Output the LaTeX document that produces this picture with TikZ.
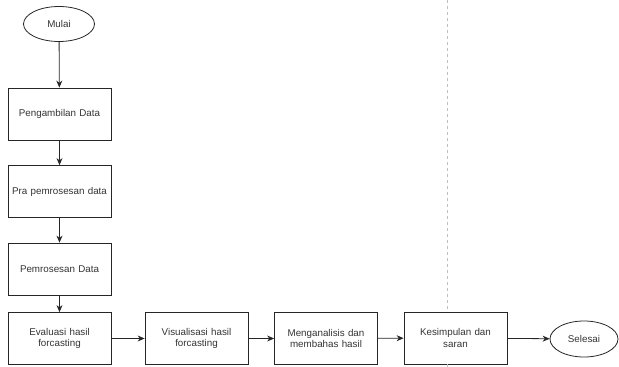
\documentclass[tikz,border=0pt]{standalone}
\usepackage{fontspec}
\setmainfont{Liberation Sans}
\usepackage{xcolor}
\usetikzlibrary{arrows.meta,shapes.geometric}
\hyphenpenalty=10000

\begin{document}
\begin{tikzpicture}[x=1pt,y=-1pt,
  font=\fontsize{9.8pt}{11.5pt}\selectfont,
  every node/.style={text=black!80},
  proc/.style={draw=black!85,line width=0.8pt,minimum width=103pt,minimum height=52pt,text width=101pt,align=center,inner sep=0pt},
  term/.style={draw=black!85,line width=0.8pt,ellipse,minimum width=71pt,minimum height=35pt,inner sep=0pt},
  flow/.style={draw=black!85,line width=0.8pt,-{Stealth[length=7pt,width=6pt]}}]
  \useasboundingbox (0,0) rectangle (619,367);

  \node[term] (start) at (59,24) {Mulai};
  \node[proc] (ambil) at (59.5,114) {Pengambilan Data};
  \node[proc] (pra) at (59.5,191.5) {Pra pemrosesan data};
  \node[proc] (proses) at (59.5,269) {Pemrosesan Data};
  \node[proc] (eval) at (59.5,338.5) {Evaluasi hasil\\forcasting};
  \node[proc] (visual) at (196.5,338.5) {Visualisasi hasil\\forcasting};
  \node[proc] (analisis) at (326,338.5) {Menganalisis dan\\membahas hasil};
  \node[proc] (simpul) at (455.5,338) {Kesimpulan dan\\saran};
  \node[term,minimum width=68pt,minimum height=36pt] (end) at (584,339) {Selesai};

  % guide line
  \coordinate (guideTop) at (447,0);
  \coordinate (guideBot) at (447,367);
  \draw[black!25,dashed,line width=0.6pt] (guideTop) -- (simpul.north -| guideTop);
  \draw[black!25,dashed,line width=0.6pt] (simpul.south -| guideTop) -- (guideBot);

  % Draw edges
  \draw[flow] (start) -- (ambil);
  \draw[flow] (ambil) -- (pra);
  \draw[flow] (pra) -- (proses);
  \draw[flow] (proses) -- (eval);
  \draw[flow] (eval) -- (visual);
  \draw[flow] (visual) -- (analisis);
  \draw[flow] (analisis) -- (simpul);
  \draw[flow] (simpul) -- (end);
\end{tikzpicture}
\end{document}
